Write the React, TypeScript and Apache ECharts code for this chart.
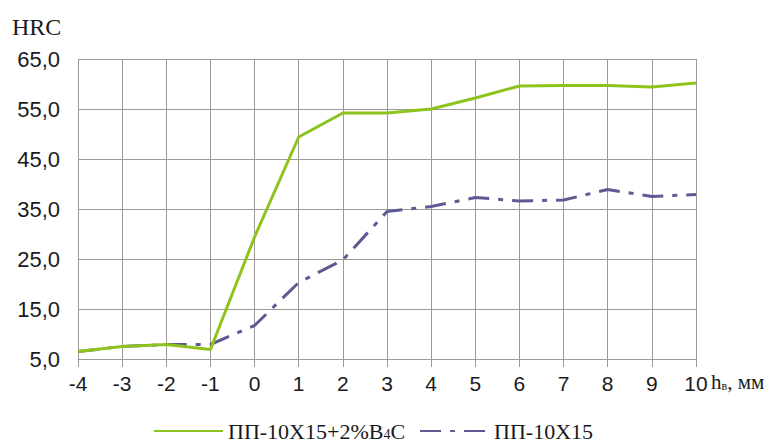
import React, { useEffect, useRef } from "react";
import * as echarts from "echarts";

const xValues = [-4, -3, -2, -1, 0, 1, 2, 3, 4, 5, 6, 7, 8, 9, 10];
const seriesBName = "ПП-10Х15+2%В4С";
const seriesBValues = [6.5, 7.5, 7.9, 6.9, 29.4, 49.4, 54.2, 54.2, 55.0, 57.2, 59.6, 59.7, 59.7, 59.4, 60.2];
const seriesAName = "ПП-10Х15";
const seriesAValues = [6.5, 7.5, 7.9, 7.9, 11.7, 20.3, 24.8, 34.5, 35.5, 37.3, 36.6, 36.8, 38.9, 37.5, 37.9];
const yTicks = { min: 5, max: 65, interval: 10 };
const xTicks = { min: -4, max: 10, interval: 1 };

const SANS = "'Liberation Sans', Arial, sans-serif";
const SERIF = "'Liberation Serif', 'Times New Roman', serif";

export default function App() {
  const ref = useRef<HTMLDivElement>(null);
  useEffect(() => {
    if (!ref.current) return;
    const chart = echarts.init(ref.current, undefined, { renderer: "svg" });
    const toPairs = (vals: number[]) => xValues.map((x, i) => [x, vals[i]]);
    chart.setOption({
      animation: false,
      backgroundColor: "#ffffff",
      grid: { left: 78, right: 80, top: 59, bottom: 83, containLabel: false },
      xAxis: {
        type: "value",
        min: xTicks.min,
        max: xTicks.max,
        interval: xTicks.interval,
        axisLine: { show: true, lineStyle: { color: "#9a9a9a", width: 1 } },
        axisTick: { show: true, length: 8, lineStyle: { color: "#9a9a9a" } },
        splitLine: { show: true, lineStyle: { color: "#9a9a9a", width: 1 } },
        axisLabel: { color: "#1a1a1a", fontFamily: SANS, fontSize: 21, margin: 14 },
      },
      yAxis: {
        type: "value",
        min: yTicks.min,
        max: yTicks.max,
        interval: yTicks.interval,
        axisLine: { show: true, lineStyle: { color: "#9a9a9a", width: 1 } },
        axisTick: { show: false },
        splitLine: { show: true, lineStyle: { color: "#9a9a9a", width: 1 } },
        axisLabel: {
          color: "#1a1a1a",
          fontFamily: SANS,
          fontSize: 22,
          margin: 18,
          formatter: (v: number) => v.toFixed(1).replace(".", ","),
        },
      },
      legend: {
        left: 153,
        top: 420,
        padding: 0,
        itemWidth: 69,
        itemHeight: 14,
        itemGap: 14,
        itemStyle: { opacity: 0, color: "transparent", borderWidth: 0 },
        data: [seriesBName, seriesAName],
        formatter: (name: string) => {
          if (name === seriesBName) return "{a|ПП-10Х15+2%В}{s|4}{a|С}";
          return "{a|" + name + "}";
        },
        textStyle: {
          color: "#1a1a1a",
          fontFamily: SERIF,
          fontSize: 22,
          rich: {
            a: { fontFamily: SERIF, fontSize: 22, lineHeight: 20, color: "#1a1a1a" },
            s: { fontFamily: SERIF, fontSize: 14, lineHeight: 12, color: "#1a1a1a", verticalAlign: "bottom" },
          },
        },
      },
      graphic: [
        {
          type: "text",
          left: 12,
          top: 15,
          style: { text: "HRC", font: "24px " + SERIF, fill: "#1a1a1a" },
        },
        {
          type: "text",
          left: 711,
          top: 371,
          style: {
            text: "{a|h}{s|в}{a|, мм}",
            fill: "#1a1a1a",
            rich: {
              a: { fontFamily: SERIF, fontSize: 21, lineHeight: 20, color: "#1a1a1a" },
              s: { fontFamily: SERIF, fontSize: 12, lineHeight: 11, color: "#1a1a1a", verticalAlign: "bottom" },
            },
          },
        },
      ],
      series: [
        {
          name: seriesBName,
          type: "line",
          data: toPairs(seriesBValues),
          showSymbol: false,
          symbol: "none",
          z: 3,
          lineStyle: { color: "#8dc31c", width: 3 },
          itemStyle: { color: "#8dc31c" },
        },
        {
          name: seriesAName,
          type: "line",
          data: toPairs(seriesAValues),
          showSymbol: false,
          symbol: "none",
          z: 2,
          lineStyle: { color: "#5e5a93", width: 3, type: [21, 9, 5, 9] },
          itemStyle: { color: "#5e5a93" },
        },
      ],
    });
    return () => chart.dispose();
  }, []);
  return <div ref={ref} style={{ width: 776, height: 442, position: "absolute", left: 0, top: 0 }} />;
}
